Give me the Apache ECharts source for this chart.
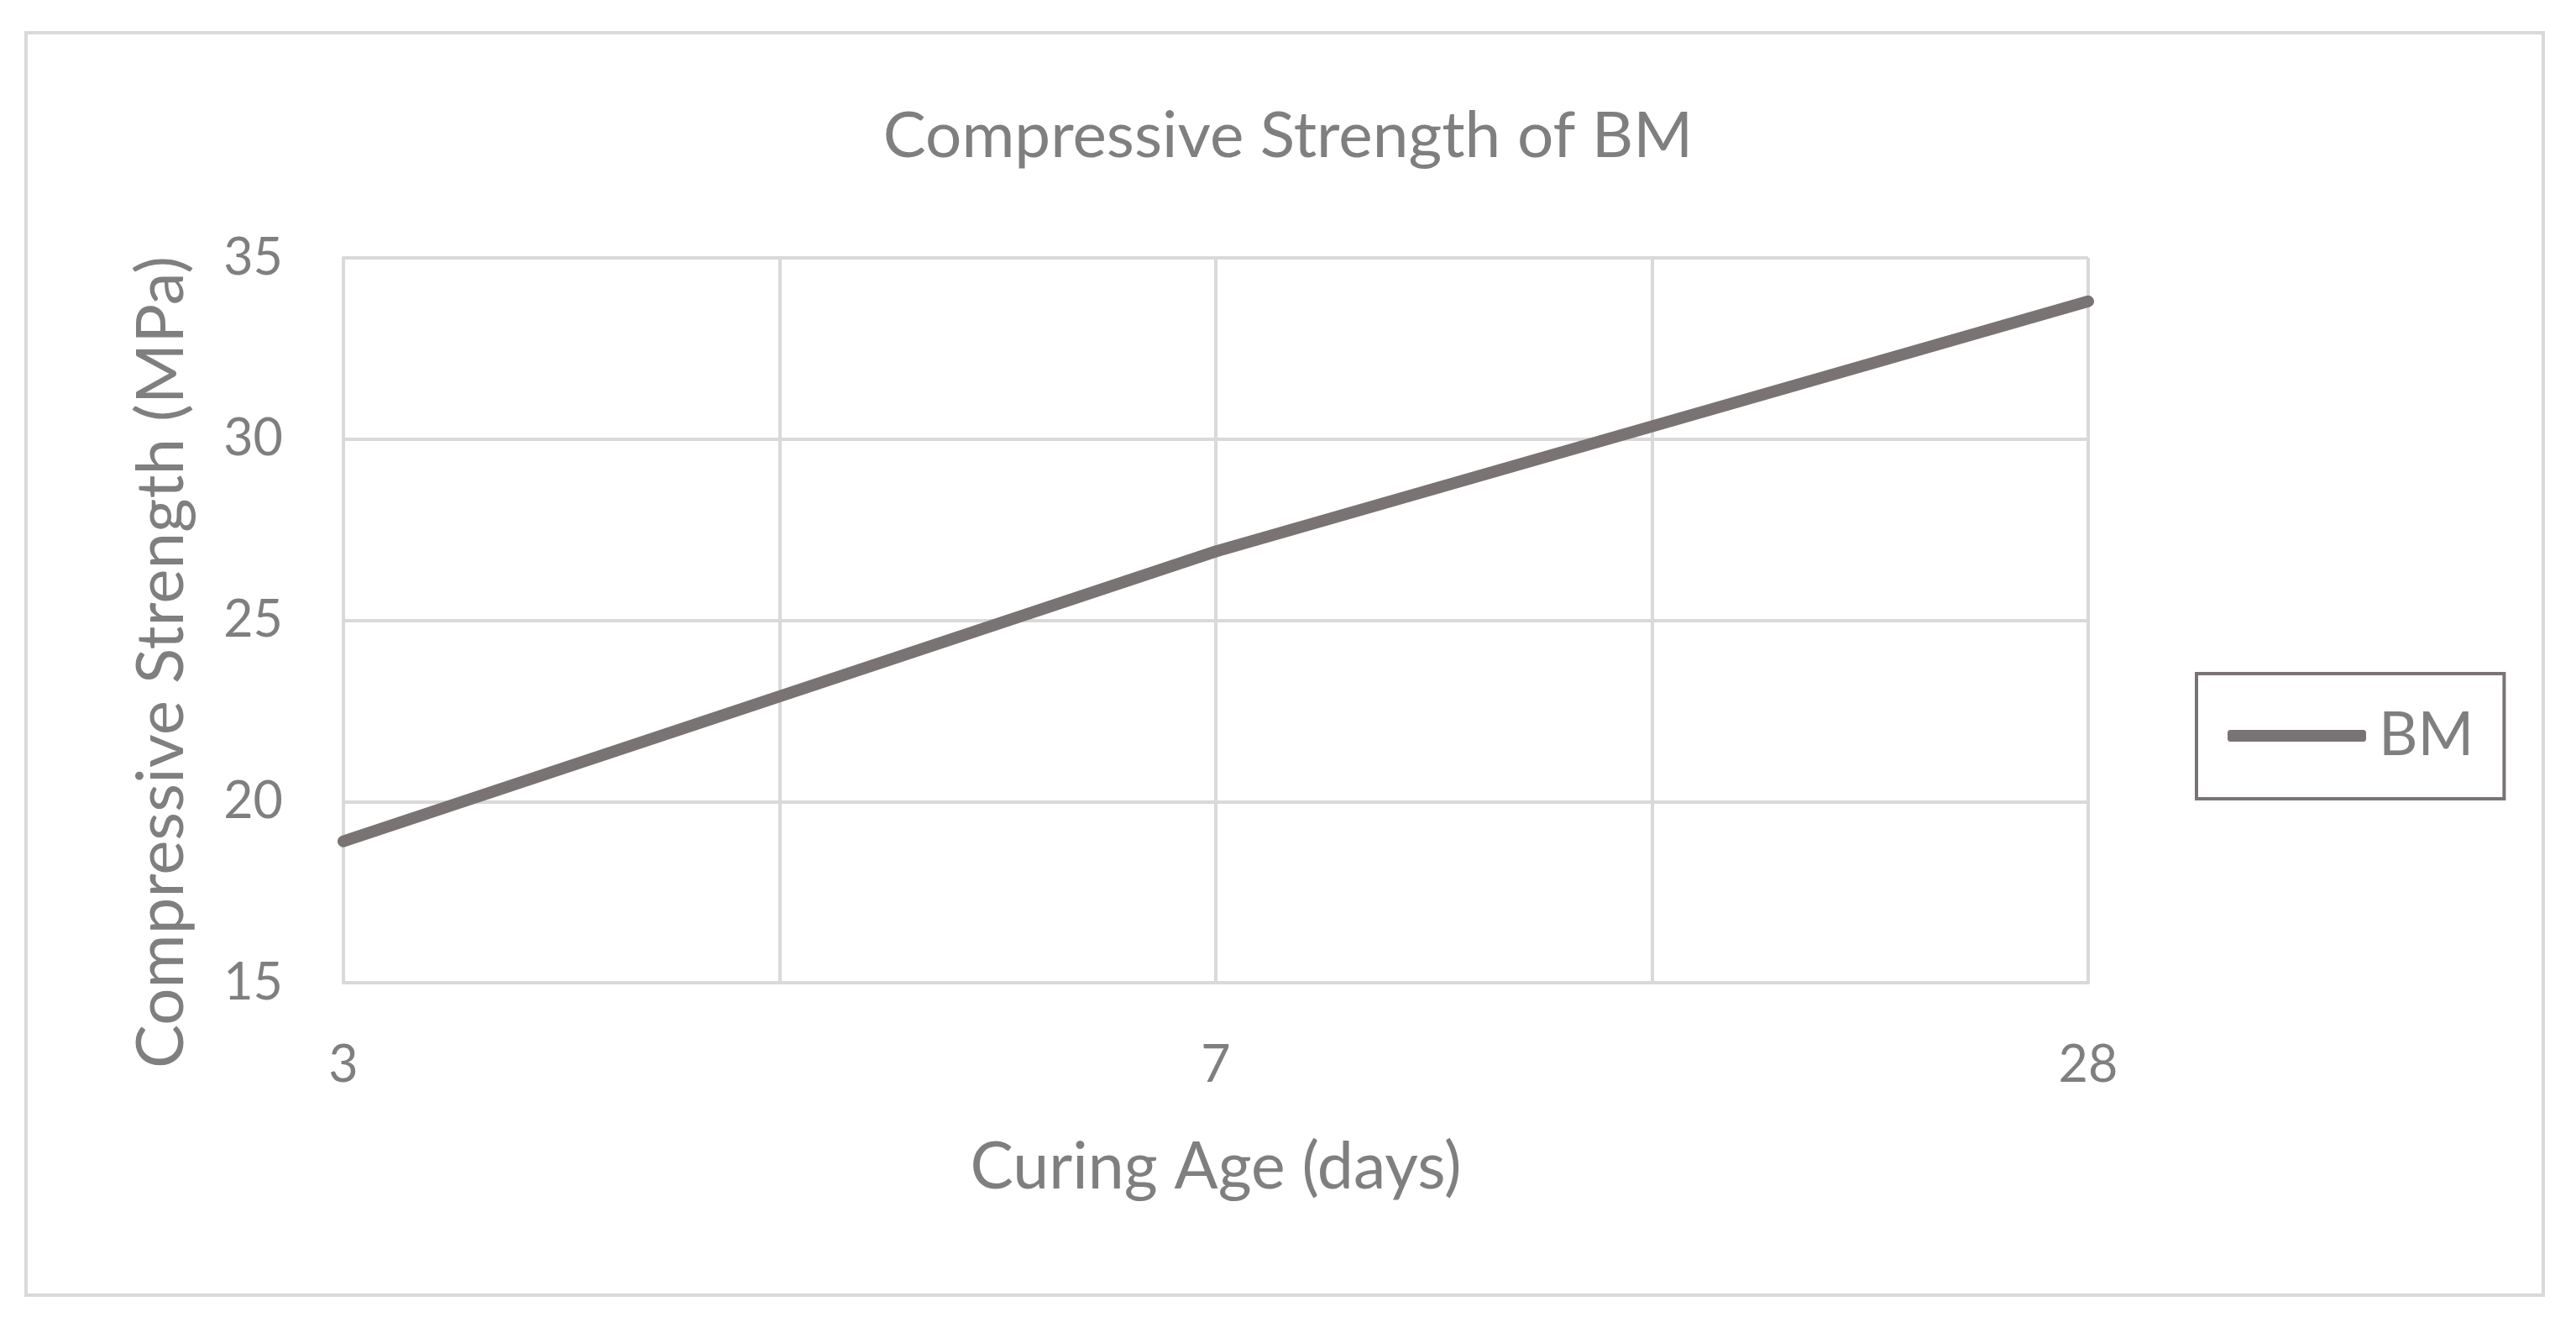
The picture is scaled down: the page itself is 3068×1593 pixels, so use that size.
<!DOCTYPE html>
<html>
<head>
<meta charset="utf-8">
<script src="https://cdn.jsdelivr.net/npm/echarts@6/dist/echarts.min.js"></script>
<style>
html,body{margin:0;padding:0;background:#fff;}
#c{width:3068px;height:1593px;}
</style>
</head>
<body>
<div id="c"></div>
<script>
var categories = ['3', '7', '28'];
var bmValues = [18.9, 26.9, 33.8];
var yTicks = [15, 20, 25, 30, 35];
var seriesName = 'BM';

var FONT = 'Lato';
var TXT = '#7f7f7f';
var GRID = '#d9d9d9';
var LINE = '#7a7374';

var chart = echarts.init(document.getElementById('c'));
chart.setOption({
  backgroundColor: '#fff',
  animation: false,
  graphic: [{
    type: 'rect',
    shape: {x: 31, y: 39, width: 2998, height: 1503},
    style: {fill: 'none', stroke: GRID, lineWidth: 4},
    silent: true
  }],
  title: {
    text: 'Compressive Strength of BM',
    left: 'center',
    top: 117,
    textStyle: {fontFamily: FONT, fontWeight: 'normal', fontSize: 76.5, color: TXT, lineHeight: 80}
  },
  legend: {
    left: 2616,
    top: 802,
    orient: 'vertical',
    data: [seriesName],
    icon: 'roundRect',
    itemWidth: 165,
    itemHeight: 14,
    itemGap: 0,
    borderColor: LINE,
    borderWidth: 4,
    borderRadius: 0,
    padding: [38, 36, 39, 37],
    textStyle: {fontFamily: FONT, fontSize: 72, color: TXT, lineHeight: 72, padding: [0, 0, 0, 10]}
  },
  grid: {left: 409, right: 3068 - 2487, top: 307, bottom: 1593 - 1170, containLabel: false},
  xAxis: {
    type: 'value',
    min: 0,
    max: categories.length - 1,
    interval: 0.5,
    name: 'Curing Age (days)',
    nameLocation: 'middle',
    nameGap: 182,
    nameTextStyle: {fontFamily: FONT, fontSize: 77, color: TXT},
    axisLine: {show: true, lineStyle: {color: GRID, width: 4}},
    axisTick: {show: false},
    splitLine: {show: true, lineStyle: {color: GRID, width: 4}},
    axisLabel: {
      fontFamily: FONT, fontSize: 61, color: TXT, margin: 68,
      formatter: function (v) {
        return Number.isInteger(v) ? categories[v] : '';
      }
    }
  },
  yAxis: {
    type: 'value',
    min: yTicks[0],
    max: yTicks[yTicks.length - 1],
    interval: 5,
    name: 'Compressive Strength (MPa)',
    nameLocation: 'middle',
    nameGap: 177,
    nameRotate: 90,
    nameTextStyle: {fontFamily: FONT, fontSize: 78, color: TXT, padding: [0, 100, 0, 0]},
    axisLine: {show: true, lineStyle: {color: GRID, width: 4}},
    axisTick: {show: false},
    splitLine: {show: true, lineStyle: {color: GRID, width: 4}},
    axisLabel: {fontFamily: FONT, fontSize: 61, color: TXT, margin: 72}
  },
  series: [{
    name: seriesName,
    type: 'line',
    data: categories.map(function (c, i) { return [i, bmValues[i]]; }),
    showSymbol: false,
    symbol: 'none',
    lineStyle: {color: LINE, width: 14, cap: 'round'},
    itemStyle: {color: LINE}
  }]
});
</script>
</body>
</html>
